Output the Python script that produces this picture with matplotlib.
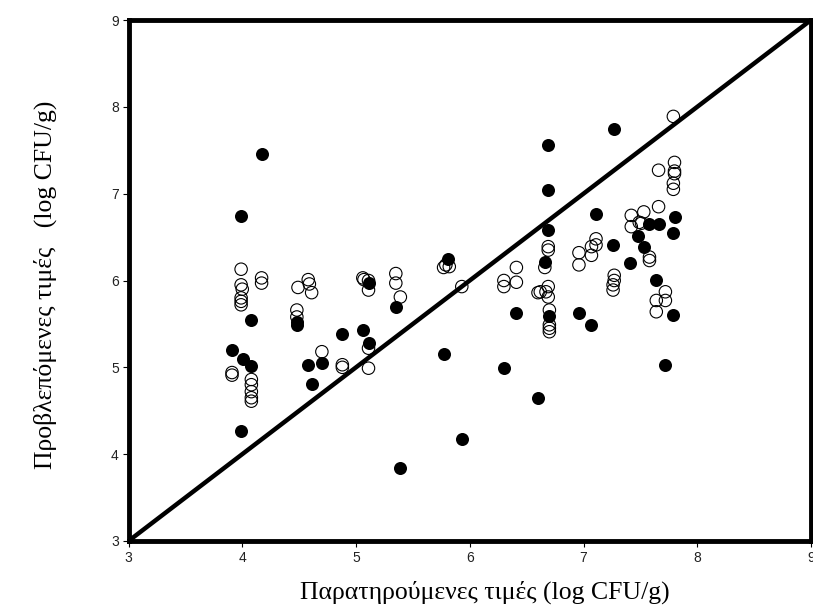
import numpy as np
import matplotlib.pyplot as plt

# filled markers
filled_x = [4.17, 3.99, 4.08, 3.91, 4.01, 4.08, 3.99, 4.48, 4.48, 4.58, 4.61,
            4.70, 4.88, 5.06, 5.11, 5.11, 5.35, 5.39, 5.77, 5.81, 5.93, 6.30,
            6.41, 6.60, 6.69, 6.69, 6.69, 6.66, 6.70, 6.96, 7.27, 7.80, 7.79,
            7.11, 7.58, 7.66, 7.48, 7.53, 7.26, 7.41, 7.64, 7.79, 7.07, 7.72]
filled_y = [7.46, 6.74, 5.54, 5.20, 5.10, 5.01, 4.27, 5.52, 5.49, 5.03, 4.81,
            5.05, 5.38, 5.43, 5.28, 5.97, 5.70, 3.84, 5.15, 6.25, 4.18, 4.99,
            5.62, 4.65, 7.56, 7.04, 6.58, 6.21, 5.59, 5.62, 7.74, 6.73, 6.55,
            6.77, 6.65, 6.65, 6.51, 6.39, 6.41, 6.20, 6.01, 5.60, 5.49, 5.03]

# open markers
open_x = [3.91, 3.91,
          3.99, 3.99, 4.00, 3.99, 3.99, 3.99,
          4.08, 4.08, 4.08, 4.08, 4.08,
          4.17, 4.17,
          4.49, 4.48, 4.48,
          4.58, 4.59, 4.61,
          4.70, 4.88, 4.88,
          5.06, 5.07, 5.11, 5.11, 5.11, 5.11,
          5.35, 5.35, 5.39,
          5.77, 5.79, 5.82, 5.93,
          6.30, 6.30, 6.41, 6.41,
          6.60, 6.62,
          6.69, 6.69, 6.66, 6.69, 6.69, 6.67, 6.70, 6.70, 6.70, 6.70,
          6.96, 6.96, 7.07, 7.07, 7.11, 7.11,
          7.79, 7.80, 7.80, 7.80, 7.79, 7.79,
          7.66, 7.66,
          7.42, 7.42, 7.53, 7.49, 7.51,
          7.58, 7.58,
          7.27, 7.27, 7.26, 7.26,
          7.72, 7.72, 7.64, 7.64]
open_y = [4.94, 4.91,
          6.13, 5.95, 5.90, 5.80, 5.76, 5.72,
          4.86, 4.80, 4.72, 4.65, 4.61,
          6.03, 5.97,
          5.92, 5.66, 5.58,
          6.01, 5.96, 5.86,
          5.18, 5.03, 5.00,
          6.03, 6.01, 6.00, 5.89, 5.22, 4.99,
          6.08, 5.97, 5.81,
          6.15, 6.18, 6.16, 5.93,
          6.00, 5.93, 6.15, 5.98,
          5.86, 5.87,
          6.39, 6.35, 6.15, 5.93, 5.81, 5.87, 5.66, 5.49, 5.45, 5.41,
          6.32, 6.18, 6.39, 6.29, 6.48, 6.41,
          7.89, 7.36, 7.26, 7.23, 7.12, 7.05,
          7.27, 6.85,
          6.75, 6.62, 6.79, 6.67, 6.66,
          6.27, 6.23,
          6.06, 6.00, 5.95, 5.89,
          5.87, 5.77, 5.77, 5.64]

ticks = [3, 4, 5, 6, 7, 8, 9]

fig = plt.figure(figsize=(8.13, 6.07), dpi=100)
ax = fig.add_axes([128.5 / 813, 1 - 541 / 607, (811 - 128.5) / 813, (541 - 20) / 607])

ax.scatter(open_x, open_y, s=80, facecolors='none', edgecolors='black',
           linewidths=0.8, zorder=2)
ax.scatter(filled_x, filled_y, s=88, color='black', linewidths=0, zorder=3)
ax.plot([3, 9], [3, 9], color='black', linewidth=3.2, zorder=4,
        solid_capstyle='butt')

ax.set_xlim(3, 9)
ax.set_ylim(3, 9)
ax.set_xticks(ticks)
ax.set_yticks(ticks)
ax.tick_params(direction='out', length=4, width=0.8, labelsize=10,
               labelcolor='#222222', pad=3)
for lbl in ax.get_xticklabels() + ax.get_yticklabels():
    lbl.set_family(['Liberation Sans Narrow', 'Liberation Sans', 'DejaVu Sans'])
for s in ax.spines.values():
    s.set_linewidth(3.5)

serif = ['Liberation Serif', 'DejaVu Serif']
fig.text(485 / 813, 1 - 592 / 607, 'Παρατηρούμενες τιμές (log CFU/g)',
         family=serif, fontsize=18.5, ha='center', va='center')
fig.text(45 / 813, 1 - 285 / 607, 'Προβλεπόμενες τιμές   (log CFU/g)',
         family=serif, fontsize=18.5, ha='center', va='center', rotation=90)

fig.savefig('out.png', dpi=100)
